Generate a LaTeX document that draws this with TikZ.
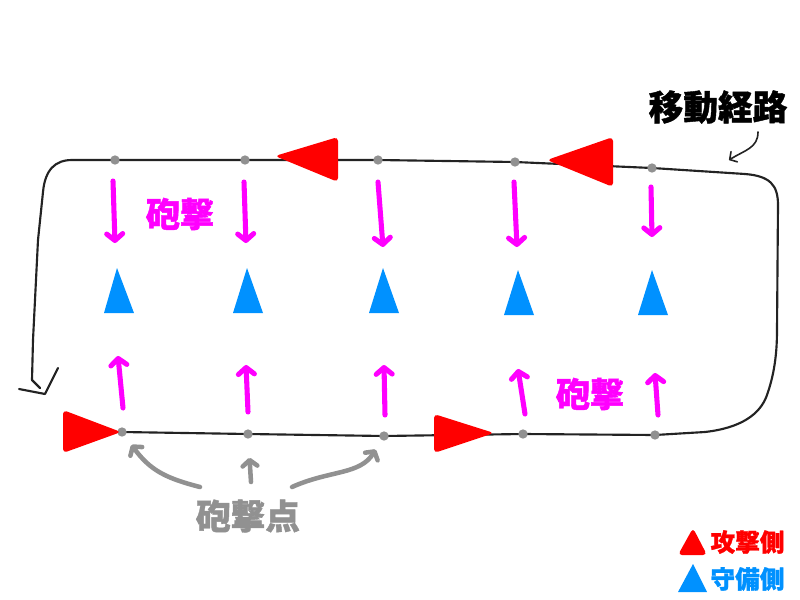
\documentclass[tikz,border=0pt]{standalone}
\usepackage{fontspec}
\newfontfamily\jpfont[BoldFeatures={FakeBold=1.2}]{Noto Sans CJK JP}
\usetikzlibrary{arrows.meta,backgrounds}
\definecolor{atkred}{RGB}{255,0,0}
\definecolor{defblue}{RGB}{0,145,255}
\definecolor{firemag}{RGB}{255,0,255}
\definecolor{ptgray}{RGB}{145,145,145}
\definecolor{routeblk}{RGB}{35,35,35}
\tikzset{every picture/.style={line width=0.75pt}}
\tikzset{
	route/.style={draw=routeblk, line width=1.6pt, line cap=round, line join=round},
	firept/.style={circle, fill=ptgray, inner sep=0pt, minimum size=7pt},
	fire/.style={draw=firemag, line width=3.8pt, line cap=round, -{Straight Barb[round,length=5pt,width=12pt]}},
	ptarrow/.style={draw=ptgray, line width=3.4pt, line cap=round, -{Straight Barb[round,length=4.5pt,width=11pt]}},
	callout/.style={draw=routeblk, line width=1.2pt, line cap=round, -{Straight Barb[round,length=4pt,width=9pt]}},
	atk/.style={fill=atkred, rounded corners=3pt},
	dfd/.style={fill=defblue},
	jp/.style={font=\jpfont\bfseries\fontsize{#1}{#1}\selectfont, inner sep=0pt}
}

\begin{document}
\begin{tikzpicture}[x=0.75pt,y=0.75pt,yscale=-1]
	\useasboundingbox (0,0) rectangle (800,600);

	% firing points, upper row
	\node[firept] (t1) at (115,160) {};
	\node[firept] (t2) at (245,160) {};
	\node[firept] (t3) at (378,160) {};
	\node[firept] (t4) at (515,162) {};
	\node[firept] (t5) at (652,168) {};
	% firing points, lower row
	\node[firept] (b1) at (122,432) {};
	\node[firept] (b2) at (248,434) {};
	\node[firept] (b3) at (384,436) {};
	\node[firept] (b4) at (523,434) {};
	\node[firept] (b5) at (655,435) {};

	%Route line
	\begin{scope}[on background layer]
	\draw[route] (b1.center) -- (185,433) -- (b2.center) -- (b3.center) -- (b4.center) -- (b5.center) -- (705,432)
		.. controls (740,428) and (760,415) .. (767,395) .. controls (774,375) and (777,355) .. (777,330)
		-- (778,205) .. controls (778,185) and (770,176) .. (745,174) -- (t5.center) -- (t4.center)
		-- (t3.center) -- (t2.center) -- (t1.center) -- (72,160)
		.. controls (55,160) and (45,170) .. (43,192) -- (38,240) -- (33,340) -- (32,380) -- (40,388) ;
	\draw[route] (19,389) -- (45,394) -- (58,368) ;
	\end{scope}

	%Attacker marks
	\fill[atk] (275,156) -- (338,137) -- (338,182) -- cycle ;
	\fill[atk] (547,160) -- (613,137) -- (613,187) -- cycle ;
	\fill[atk] (121,432) -- (63,410) -- (63,453) -- cycle ;
	\fill[atk] (494,433) -- (434,414) -- (434,453) -- cycle ;

	%Defender marks
	\fill[dfd] (117,268) -- (104,313) -- (134,313) -- cycle ;
	\fill[dfd] (247,268) -- (233,313) -- (263,313) -- cycle ;
	\fill[dfd] (383,268) -- (369,313) -- (399,313) -- cycle ;
	\fill[dfd] (518,270) -- (504,315) -- (534,315) -- cycle ;
	\fill[dfd] (652,270) -- (638,315) -- (668,315) -- cycle ;

	%Fire arrows, down
	\draw[fire] (113,181) -- (115,243) ;
	\draw[fire] (244,182) -- (246,243) ;
	\draw[fire] (378,182) -- (383,247) ;
	\draw[fire] (514,182) -- (517,247) ;
	\draw[fire] (651,187) -- (652,237) ;
	%Fire arrows, up
	\draw[fire] (123,408) -- (118,356) ;
	\draw[fire] (248,412) -- (246,365) ;
	\draw[fire] (385,415) -- (384,365) ;
	\draw[fire] (525,414) -- (518,369) ;
	\draw[fire] (658,415) -- (655,373) ;

	% Text Node
	\node[jp=25.5pt, text=firemag] (fireup) at (180,214) {砲撃};
	% Text Node
	\node[jp=25.5pt, text=firemag] (firelow) at (590,394) {砲撃};
	% Text Node
	\node[jp=26pt, text=black] (routelbl) at (718,107) {移動経路};
	% Text Node
	\node[jp=26pt, text=ptgray] (ptlbl) at (248,516) {砲撃点};
	% Text Node
	\node[jp=18.5pt, text=atkred, anchor=west] (atklbl) at (710,542) {攻撃側};
	% Text Node
	\node[jp=18.5pt, text=defblue, anchor=west] (dfdlbl) at (710,579) {守備側};
	%Legend marks
	\fill[atk] (693,528) -- (678,555) -- (707,555) -- cycle ;
	\fill[dfd] (693,564) -- (678,592) -- (707,592) -- cycle ;

	%Callout to route
	\coordinate (rc) at (758,132);
	\coordinate (rt) at (729,160);
	\draw[callout] (rc) .. controls (758,148) and (745,150) .. (rt) ;

	%Pointers to firing points
	\coordinate (pa1) at (200,487);
	\coordinate (pa2) at (251,482);
	\coordinate (pa3) at (292,487);
	\draw[ptarrow, shorten >=8pt] (pa1) .. controls (165,478) and (150,470) .. (b1) ;
	\draw[ptarrow, shorten >=14pt] (pa2) -- (b2) ;
	\draw[ptarrow, shorten >=8pt] (pa3) .. controls (330,470) and (360,475) .. (b3) ;

\end{tikzpicture}
\end{document}
